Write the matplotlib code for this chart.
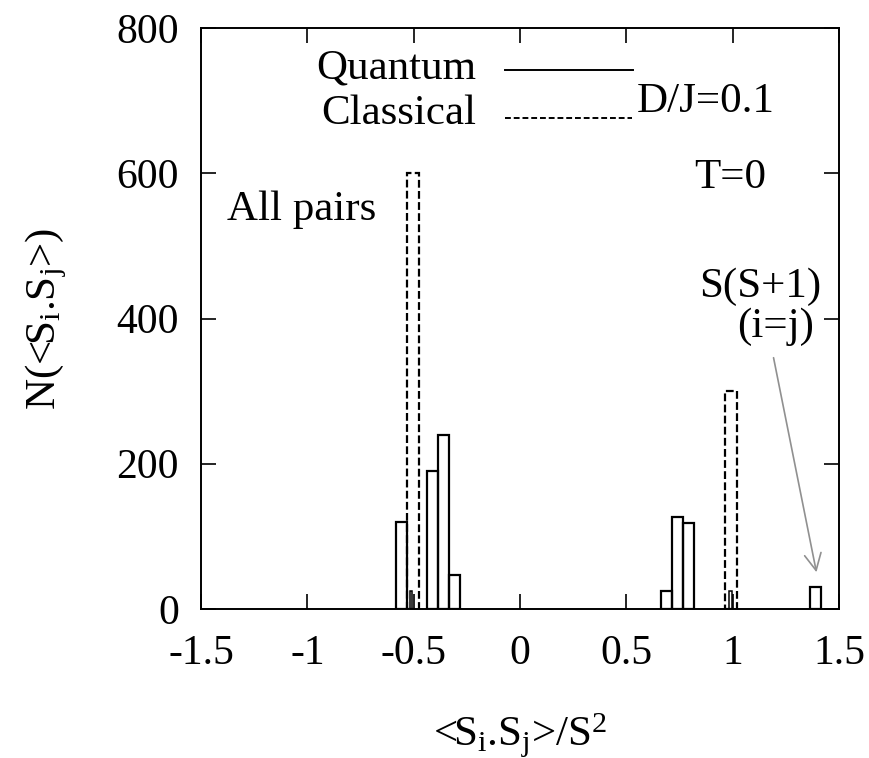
import matplotlib
matplotlib.use("Agg")
import matplotlib.pyplot as plt

# Quantum histogram (solid)
q_centers = [-0.557, -0.511, -0.410, -0.358, -0.306, 0.690, 0.742, 0.794, 0.990, 1.389]
q_heights = [120, 25, 190, 240, 47, 25, 126, 119, 25, 30]
q_narrow = [False, True, False, False, False, False, False, False, True, False]

# Classical histogram (dashed)
c_centers = [-0.503, 0.991]
c_heights = [600, 300]

xticks = [-1.5, -1, -0.5, 0, 0.5, 1, 1.5]
xticklabels = ["-1.5", "-1", "-0.5", "0", "0.5", "1", "1.5"]
yticks = [0, 200, 400, 600, 800]

plt.rcParams['font.family'] = ['Liberation Serif', 'DejaVu Serif']
plt.rcParams['mathtext.fontset'] = 'custom'
plt.rcParams['mathtext.rm'] = 'Liberation Serif'
plt.rcParams['mathtext.it'] = 'Liberation Serif:italic'

FS = 31

fig = plt.figure(figsize=(8.69, 7.58), dpi=100)
ax = fig.add_axes([201/869, 1-609/758, (839-201)/869, (609-28)/758])

widths = [0.011 if n else 0.052 for n in q_narrow]
lws = [1.1 if n else 1.6 for n in q_narrow]
ax.bar(q_centers, q_heights, width=widths, fill=False, edgecolor='black',
       linewidth=lws, zorder=3)
ax.bar(c_centers, c_heights, width=0.058, fill=False, edgecolor='black',
       linewidth=1.6, linestyle=(0, (3.5, 1.5)), zorder=2)

ax.set_xlim(-1.5, 1.5)
ax.set_ylim(0, 800)
ax.set_xticks(xticks)
ax.set_xticklabels(xticklabels)
ax.set_yticks(yticks)
ax.tick_params(direction='in', length=11, width=1.2, top=True, right=True,
               labelsize=30)
ax.tick_params(axis='x', pad=18)
ax.tick_params(axis='y', pad=16)
for s in ax.spines.values():
    s.set_linewidth(1.4)

ax.set_xlabel(r'<S$_\mathregular{i}$.S$_\mathregular{j}$>/S$^\mathregular{2}$', fontsize=FS, labelpad=28)
ax.set_ylabel(r'N(<S$_\mathregular{i}$.S$_\mathregular{j}$>)', fontsize=FS, labelpad=34)

# Legend drawn manually
T = ax.transAxes
def fx(px): return (px - 201) / (839 - 201)
def fy(py): return (609 - py) / (609 - 28)

ax.text(fx(476), fy(68), 'Quantum', transform=T, ha='right', va='center', fontsize=FS)
ax.plot([fx(505), fx(633)], [fy(70), fy(70)], transform=T, color='black', lw=1.4, clip_on=False)
ax.text(fx(476), fy(114), 'Classical', transform=T, ha='right', va='center', fontsize=FS)
ax.plot([fx(505), fx(632)], [fy(118), fy(118)], transform=T, color='black', lw=1.4,
        linestyle=(0, (3, 1.5)), clip_on=False)
ax.text(fx(637), fy(102), 'D/J=0.1', transform=T, ha='left', va='center', fontsize=FS)
ax.text(fx(730), fy(178), 'T=0', transform=T, ha='center', va='center', fontsize=FS)
ax.text(fx(302), fy(210), 'All pairs', transform=T, ha='center', va='center', fontsize=FS)
ax.text(fx(821), fy(287), 'S(S+1)', transform=T, ha='right', va='center', fontsize=FS)
ax.text(fx(814), fy(327), '(i=j)', transform=T, ha='right', va='center', fontsize=FS)

ax.annotate('', xy=(fx(817), fy(575)), xytext=(fx(773), fy(355)),
            xycoords=T, textcoords=T,
            arrowprops=dict(arrowstyle='->', color='#909090', lw=1.2,
                            mutation_scale=30))

fig.savefig('out.png', dpi=100)
